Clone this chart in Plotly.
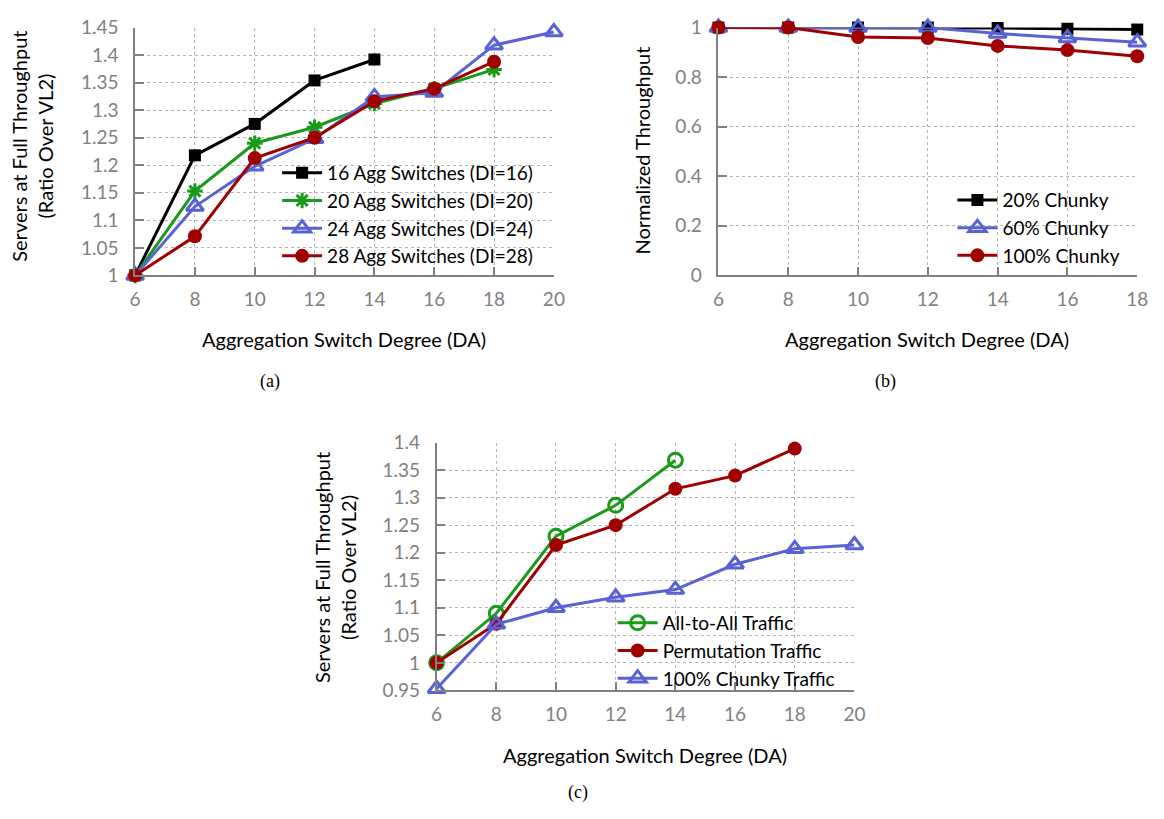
import plotly.graph_objects as go

W, H = 1164, 819

# ---------------- data ----------------
# (a) servers at full throughput, ratio over VL2
a_x16 = [6, 8, 10, 12, 14]
a_y16 = [1.0, 1.218, 1.275, 1.354, 1.392]
a_x20 = [6, 8, 10, 12, 14, 16, 18]
a_y20 = [1.0, 1.153, 1.240, 1.269, 1.312, 1.339, 1.374]
a_x24 = [6, 8, 10, 12, 14, 16, 18, 20]
a_y24 = [1.0, 1.125, 1.198, 1.248, 1.324, 1.332, 1.418, 1.442]
a_x28 = [6, 8, 10, 12, 14, 16, 18]
a_y28 = [1.0, 1.071, 1.213, 1.250, 1.316, 1.339, 1.388]
a_names = ["16 Agg Switches (DI=16)", "20 Agg Switches (DI=20)",
           "24 Agg Switches (DI=24)", "28 Agg Switches (DI=28)"]

# (b) normalized throughput
b_x = [6, 8, 10, 12, 14, 16, 18]
b_y20 = [1.0, 1.0, 1.0, 1.0, 0.998, 0.995, 0.992]
b_y60 = [1.0, 1.0, 1.0, 1.0, 0.976, 0.958, 0.941]
b_y100 = [1.0, 1.0, 0.962, 0.958, 0.926, 0.909, 0.884]
b_names = ["20% Chunky", "60% Chunky", "100% Chunky"]

# (c) traffic patterns
c_x_all = [6, 8, 10, 12, 14]
c_y_all = [1.0, 1.090, 1.230, 1.286, 1.368]
c_x_perm = [6, 8, 10, 12, 14, 16, 18]
c_y_perm = [1.0, 1.071, 1.214, 1.250, 1.316, 1.340, 1.389]
c_x_chunky = [6, 8, 10, 12, 14, 16, 18, 20]
c_y_chunky = [0.953, 1.070, 1.100, 1.119, 1.133, 1.179, 1.207, 1.214]
c_names = ["All-to-All Traffic", "Permutation Traffic", "100% Chunky Traffic"]

x_ticks_a = [6, 8, 10, 12, 14, 16, 18, 20]
x_ticks_b = [6, 8, 10, 12, 14, 16, 18]
y_ticks_a = [1.0, 1.05, 1.1, 1.15, 1.2, 1.25, 1.3, 1.35, 1.4, 1.45]
y_text_a = ["1", "1.05", "1.1", "1.15", "1.2", "1.25", "1.3", "1.35", "1.4", "1.45"]
y_ticks_b = [0, 0.2, 0.4, 0.6, 0.8, 1.0]
y_text_b = ["0", "0.2", "0.4", "0.6", "0.8", "1"]
y_ticks_c = [0.95, 1.0, 1.05, 1.1, 1.15, 1.2, 1.25, 1.3, 1.35, 1.4]
y_text_c = ["0.95", "1", "1.05", "1.1", "1.15", "1.2", "1.25", "1.3", "1.35", "1.4"]

# ---------------- styles ----------------
BLACK = "#000000"
GREEN = "#1a9a1a"
BLUE = "#5862d4"
RED = "#a00000"
FONT = "Lato"
GRAY = "#808080"
LW = 3
TICK_SIZE = 19
TITLE_SIZE = 20
LEG_SIZE = 19


def px_x(p):
    return p / W


def px_y(p):
    return 1 - p / H


fig = go.Figure()


def add(x, y, name, color, symbol, size, xa, ya, legend, group):
    fig.add_trace(go.Scatter(
        x=x, y=y, name=name, mode="lines+markers",
        line=dict(color=color, width=LW),
        marker=dict(symbol=symbol, size=size, color=color,
                    line=dict(color=color, width=LW if "open" in symbol else 0)),
        xaxis=xa, yaxis=ya, legend=legend, legendgroup=group,
        cliponaxis=False,
    ))


add(a_x16, a_y16, a_names[0], BLACK, "square", 12, "x", "y", "legend", "a1")
add(a_x20, a_y20, a_names[1], GREEN, "asterisk-open", 13, "x", "y", "legend", "a2")
add(a_x24, a_y24, a_names[2], BLUE, "triangle-up-open", 15, "x", "y", "legend", "a3")
add(a_x28, a_y28, a_names[3], RED, "circle", 14, "x", "y", "legend", "a4")

add(b_x, b_y20, b_names[0], BLACK, "square", 12, "x2", "y2", "legend2", "b1")
add(b_x, b_y60, b_names[1], BLUE, "triangle-up-open", 15, "x2", "y2", "legend2", "b2")
add(b_x, b_y100, b_names[2], RED, "circle", 14, "x2", "y2", "legend2", "b3")

add(c_x_all, c_y_all, c_names[0], GREEN, "circle-open", 14, "x3", "y3", "legend3", "c1")
add(c_x_perm, c_y_perm, c_names[1], RED, "circle", 14, "x3", "y3", "legend3", "c2")
add(c_x_chunky, c_y_chunky, c_names[2], BLUE, "triangle-up-open", 15, "x3", "y3", "legend3", "c3")

axis_common = dict(
    showline=True, linecolor=GRAY, linewidth=1.5, mirror=False,
    ticks="inside", ticklen=9, tickcolor=GRAY, tickwidth=1.5,
    showgrid=True, gridcolor="#b4b4b4", griddash="dot", gridwidth=1,
    zeroline=False,
    tickfont=dict(family=FONT, size=TICK_SIZE, color=GRAY),
)
xcommon = dict(ticklabelstandoff=6, **axis_common)
ycommon = dict(ticklabelstandoff=11, **axis_common)
legcommon = dict(bgcolor="rgba(0,0,0,0)", tracegroupgap=0, itemwidth=40,
                 font=dict(family=FONT, size=LEG_SIZE, color="black"))

fig.update_layout(
    width=W, height=H,
    margin=dict(l=0, r=0, t=0, b=0),
    paper_bgcolor="white", plot_bgcolor="white",
    font=dict(family=FONT, size=TITLE_SIZE, color="black"),
    xaxis=dict(domain=[px_x(131), px_x(556)], range=[6, 20], tickvals=x_ticks_a,
               anchor="y", **xcommon),
    yaxis=dict(domain=[px_y(271), px_y(16)], range=[1.0, 1.45], tickvals=y_ticks_a,
               ticktext=y_text_a, anchor="x", **ycommon),
    xaxis2=dict(domain=[px_x(723), px_x(1148)], range=[6, 18], tickvals=x_ticks_b,
                anchor="y2", **xcommon),
    yaxis2=dict(domain=[px_y(271), px_y(16)], range=[0, 1.0], tickvals=y_ticks_b,
                ticktext=y_text_b, anchor="x2", **ycommon),
    xaxis3=dict(domain=[px_x(437), px_x(861)], range=[6, 20], tickvals=x_ticks_a,
                anchor="y3", **xcommon),
    yaxis3=dict(domain=[px_y(698), px_y(443)], range=[0.95, 1.4], tickvals=y_ticks_c,
                ticktext=y_text_c, anchor="x3", **ycommon),
    legend=dict(x=px_x(540), xanchor="right", y=px_y(146), yanchor="top", **legcommon),
    legend2=dict(x=px_x(1136), xanchor="right", y=px_y(174), yanchor="top", **legcommon),
    legend3=dict(x=px_x(847), xanchor="right", y=px_y(609), yanchor="top", **legcommon),
)

ann = []


def text(x, y, s, angle=0, size=TITLE_SIZE, family=FONT):
    ann.append(dict(x=px_x(x), y=px_y(y), xref="paper", yref="paper", text=s,
                    showarrow=False, textangle=angle, xanchor="center", yanchor="middle",
                    font=dict(family=family, size=size, color="black")))


text(343, 336, "Aggregation Switch Degree (DA)")
text(935, 336, "Aggregation Switch Degree (DA)")
text(648, 764, "Aggregation Switch Degree (DA)")
text(27, 138, "Servers at Full Throughput<br>(Ratio Over VL2)", angle=-90)
text(645, 143, "Normalized Throughput", angle=-90)
text(334, 572, "Servers at Full Throughput<br>(Ratio Over VL2)", angle=-90)
text(268, 380, "(a)", size=18, family="Liberation Serif")
text(893, 380, "(b)", size=18, family="Liberation Serif")
text(580, 803, "(c)", size=18, family="Liberation Serif")

fig.update_layout(annotations=ann)

fig.write_html("out.html")
